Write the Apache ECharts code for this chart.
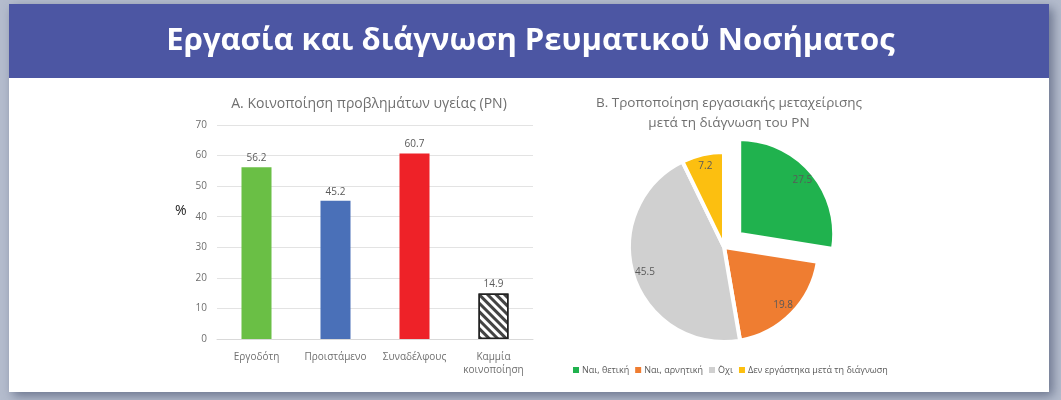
<!DOCTYPE html>
<html lang="el">
<head>
<meta charset="UTF-8">
<title>Εργασία και διάγνωση Ρευματικού Νοσήματος</title>
<style>
  html, body { margin: 0; padding: 0; background: #aeb6c9; }
  #chart { width: 1061px; height: 400px; }
</style>
<script src="https://cdn.jsdelivr.net/npm/echarts@6/dist/echarts.min.js"></script>
</head>
<body>
<div id="chart"></div>
<script>
// Α. Κοινοποίηση προβλημάτων υγείας
var barCategories = ['Εργοδότη', 'Προιστάμενο', 'Συναδέλφους', 'Καμμία\nκοινοποίηση'];
var barValues = [56.2, 45.2, 60.7, 14.9];
var barColors = ['#6abf45', '#4a70b8', '#ee2228', '#ffffff'];

// Β. Τροποποίηση εργασιακής μεταχείρισης
var pieNames = ['Ναι, θετική', 'Ναι, αρνητική', '΄Οχι', 'Δεν εργάστηκα μετά τη διάγνωση'];
var pieValues = [27.5, 19.8, 45.5, 7.2];
var pieColors = ['#20b24e', '#ef7d31', '#d0d0d0', '#fcbf10'];

var font = '"Open Sans", "Noto Sans", sans-serif';
var chart = echarts.init(document.getElementById('chart'));

var barData = barValues.map(function (v, i) {
  var item = { value: v, itemStyle: { color: barColors[i] } };
  if (i === 3) {
    // hatched bar for "no notification"
    item.itemStyle = {
      color: '#ffffff',
      borderColor: '#222',
      borderWidth: 1.5,
      decal: {
        color: '#444',
        backgroundColor: '#ffffff',
        dashArrayX: [1, 0],
        dashArrayY: [3, 3],
        rotation: Math.PI / 4,
        symbolSize: 1
      }
    };
  }
  return item;
});

var pieData = pieValues.map(function (v, i) {
  return { name: pieNames[i], value: v, selected: i === 0, itemStyle: { color: pieColors[i] } };
});
// same slices, invisible, only to put the value labels further out
var pieLabelData = pieValues.map(function (v, i) {
  return { name: pieNames[i], value: v, selected: i === 0 };
});

var pieCenter = [724, 247];

chart.setOption({
  backgroundColor: '#b4bccd',
  textStyle: { fontFamily: font },
  graphic: [
    { type: 'rect', shape: { x: 9, y: 4, width: 1040, height: 388 },
      style: { fill: '#ffffff', shadowBlur: 10, shadowOffsetX: 4, shadowOffsetY: 4, shadowColor: 'rgba(60,70,100,0.6)' } },
    { type: 'rect', shape: { x: 9, y: 4, width: 1040, height: 74 }, style: { fill: '#4c56a3' } }
  ],
  title: [
    { text: 'Εργασία και διάγνωση Ρευματικού Νοσήματος', left: 'center', top: 21,
      textStyle: { color: '#ffffff', fontSize: 31, fontWeight: 'bold', fontFamily: font } },
    { text: 'A. Κοινοποίηση προβλημάτων υγείας (PN)', left: 364, top: 92, textAlign: 'center',
      textStyle: { color: '#6f6f6f', fontSize: 14, fontWeight: 'normal', fontFamily: font } },
    { text: 'B. Τροποποίηση εργασιακής μεταχείρισης\nμετά τη διάγνωση του PN', left: 724, top: 88, textAlign: 'center',
      textStyle: { color: '#6f6f6f', fontSize: 13.5, fontWeight: 'normal', lineHeight: 20, fontFamily: font } },
    // y-axis unit, sits a bit above the middle as in the original
    { text: '%', left: 170, top: 199,
      textStyle: { color: '#222', fontSize: 14, fontWeight: 'normal', fontFamily: font } }
  ],
  grid: { left: 217, top: 125, width: 316, height: 214 },
  xAxis: {
    type: 'category',
    data: barCategories,
    axisLine: { lineStyle: { color: '#d9d9d9' } },
    axisTick: { show: false },
    axisLabel: { color: '#6f6f6f', fontSize: 10, margin: 12, lineHeight: 13, interval: 0 }
  },
  yAxis: {
    type: 'value', min: 0, max: 70, interval: 10,
    axisLine: { show: false }, axisTick: { show: false },
    axisLabel: { color: '#6f6f6f', fontSize: 10, margin: 10 },
    splitLine: { lineStyle: { color: '#e3e3e3' } }
  },
  legend: {
    data: pieNames, left: 566, top: 360,
    itemWidth: 8, itemHeight: 8, itemGap: 4, icon: 'rect',
    textStyle: { color: '#595959', fontSize: 9, padding: [0, 0, 0, -3] }
  },
  series: [
    {
      type: 'bar', data: barData, barWidth: '38%',
      label: { show: true, position: 'top', color: '#595959', fontSize: 10, distance: 4 }
    },
    {
      type: 'pie', center: pieCenter, radius: 95,
      startAngle: 90, clockwise: true,
      selectedMode: 'multiple', selectedOffset: 20,
      itemStyle: { borderColor: '#ffffff', borderWidth: 4 },
      label: { show: false },
      labelLine: { show: false },
      emphasis: { disabled: true },
      data: pieData
    },
    {
      type: 'pie', center: pieCenter, radius: [64, 96],
      startAngle: 90, clockwise: true, silent: true,
      selectedMode: 'multiple', selectedOffset: 20,
      itemStyle: { color: 'rgba(0,0,0,0)', borderWidth: 0 },
      label: { show: true, position: 'inside', color: '#595959', fontSize: 10,
        formatter: function (p) { return p.value; } },
      labelLine: { show: false },
      emphasis: { disabled: true },
      data: pieLabelData
    }
  ]
});
</script>
</body>
</html>
